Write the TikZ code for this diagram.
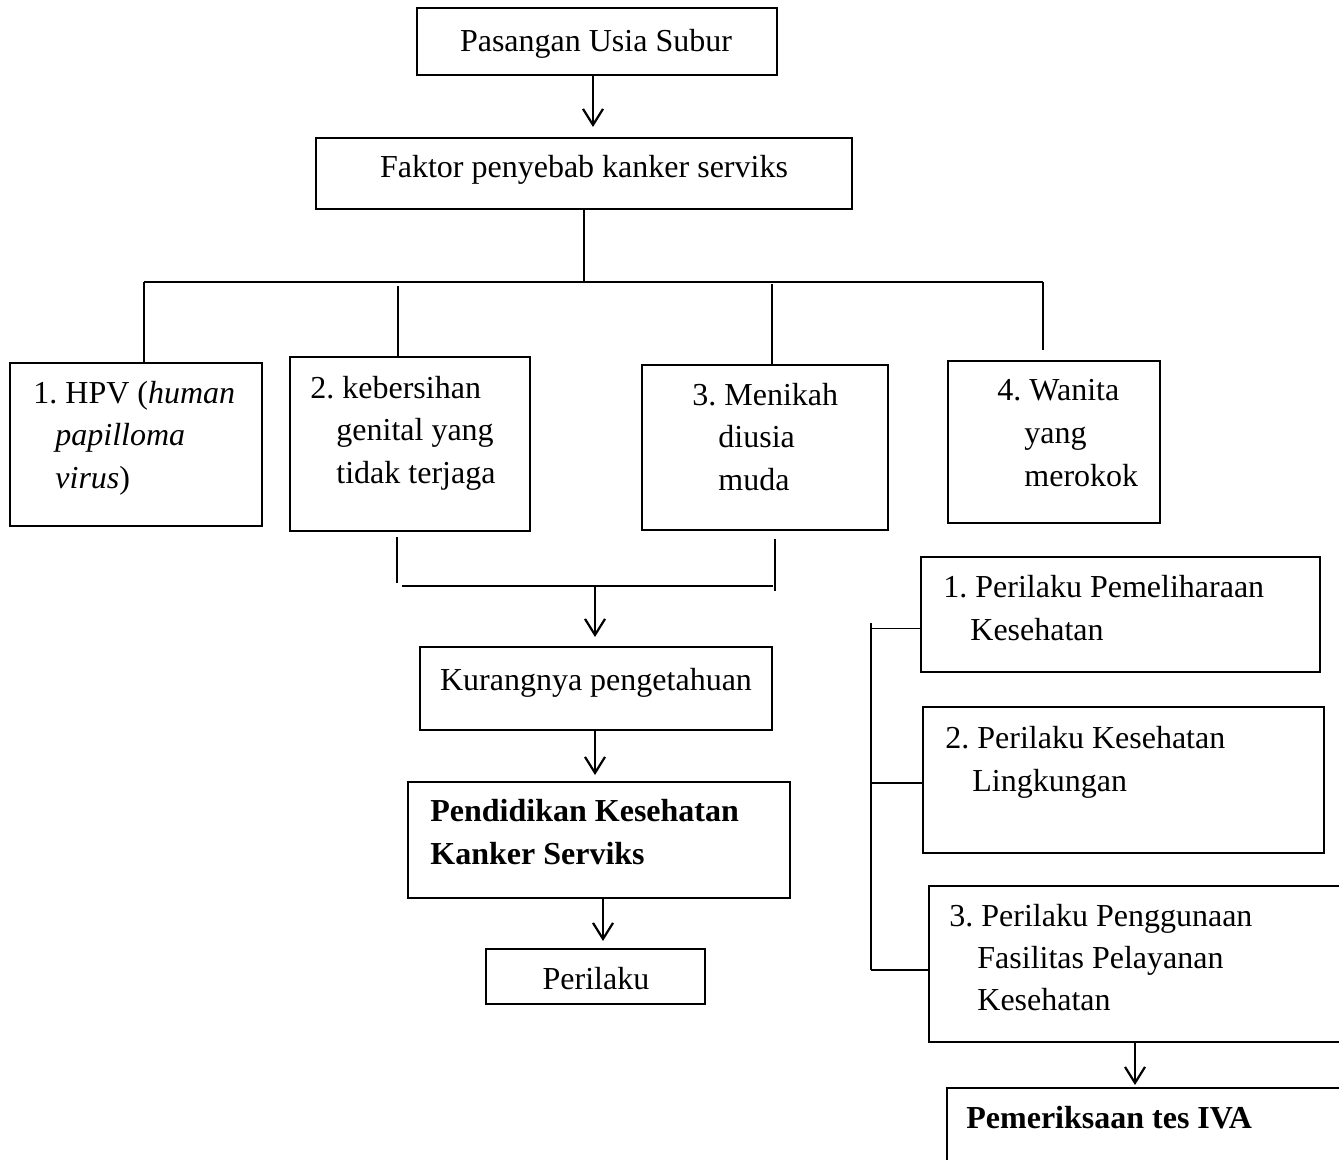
\documentclass[tikz,border=0pt]{standalone}
\usepackage{fontspec}
\setmainfont{Liberation Serif}
\frenchspacing
\usepackage{tikz}
\usetikzlibrary{positioning, arrows.meta, fit, calc}

\begin{document}
\begin{tikzpicture}[x=0.5pt, y=-0.5pt]

	% Styles
	\tikzset{
		box/.style={
			rectangle, draw, line width=1pt, inner sep=0pt
		},
		txt/.style={
			inner sep=0pt, align=left,
			font=\fontsize{16}{21.5}\selectfont
		},
		link/.style={line width=0.8pt},
		arr/.style={line width=1.1pt, -{Straight Barb[length=8pt, width=10pt]}}
	}

	% Page
	\clip (0,0) rectangle (1339,1160);
	\fill[white] (0,0) rectangle (1339,1160);

	% Top boxes
	\node (pus) [box, fit={(417,8) (777,75)}] {};
	\node (pustext) [txt, anchor=base] at (596,52) {Pasangan Usia Subur};
	\node (fak) [box, fit={(316,138) (852,209)}] {};
	\node (faktext) [txt, anchor=base] at (584,178) {Faktor penyebab kanker serviks};

	% Causes (text anchored on the last line)
	\node (hpv) [box, fit={(10,363) (262,526)}] {};
	\node (hpvtext) [txt, anchor=base west] at (33,489) {1. HPV (\textit{human}\\\hspace*{11pt}\textit{papilloma}\\\hspace*{11pt}\textit{virus})};
	\node (gen) [box, fit={(290,357) (530,531)}] {};
	\node (gentext) [txt, anchor=base west] at (310,484) {2. kebersihan\\\hspace*{13pt}genital yang\\\hspace*{13pt}tidak terjaga};
	\node (muda) [box, fit={(642,365) (888,530)}] {};
	\node (mudatext) [txt, anchor=base west] at (692,491) {3. Menikah\\\hspace*{13pt}diusia\\\hspace*{13pt}muda};
	\node (rok) [box, fit={(948,361) (1160,523)}] {};
	\node (roktext) [txt, anchor=base west] at (997,487) {4. Wanita\\\hspace*{13.5pt}yang\\\hspace*{13.5pt}merokok};

	% Middle column
	\node (kur) [box, fit={(420,647) (772,730)}] {};
	\node (kurtext) [txt, anchor=base] at (596,690) {Kurangnya pengetahuan};
	\node (pend) [box, fit={(408,782) (790,898)}] {};
	\node (pendtext) [txt, anchor=base west, font=\fontsize{16}{21.5}\selectfont\bfseries] at (430,864) {Pendidikan Kesehatan\\Kanker Serviks};
	\node (per) [box, fit={(486,949) (705,1004)}] {};
	\node (pertext) [txt, anchor=base] at (596,989) {Perilaku};

	% Behaviour types
	\node (pml) [box, fit={(921,557) (1320,672)}] {};
	\node (pmltext) [txt, anchor=base west] at (943,640) {1. Perilaku Pemeliharaan\\\hspace*{13.5pt}Kesehatan};
	\node (lkg) [box, fit={(923,707) (1324,853)}] {};
	\node (lkgtext) [txt, anchor=base west] at (945,791) {2. Perilaku Kesehatan\\\hspace*{13.5pt}Lingkungan};
	\node (fas) [box, fit={(929,886) (1350,1042)}] {};
	\node (fastext) [txt, anchor=base west, font=\fontsize{16}{20.8}\selectfont] at (949,1010) {3. Perilaku Penggunaan\\\hspace*{14pt}Fasilitas Pelayanan\\\hspace*{14pt}Kesehatan};
	\node (iva) [box, fit={(947,1088) (1350,1170)}] {};
	\node (ivatext) [txt, anchor=base west, font=\fontsize{16}{21.5}\selectfont\bfseries] at (966,1128) {Pemeriksaan tes IVA};

	% Tree from the causes box
	\coordinate (busL) at (144,282);
	\coordinate (busR) at (1043,282);
	\draw[arr, shorten >=5pt] ([xshift=-2pt]pus.south) -- ([xshift=-2pt]pus.south |- fak.north);
	\draw[link] (fak.south) -- (fak.south |- busL);
	\draw[link] (busL) -- (busR);
	\draw[link] (busL) -- (busL |- hpv.north);
	\draw[link] ($(gen.north)+(-12,-70)$) -- ($(gen.north)+(-12,0)$);
	\draw[link] ($(muda.north)+(7,-80)$) -- ($(muda.north)+(7,0)$);
	\draw[link] (busR) -- ($(busR)+(0,68)$);

	% Join into knowledge
	\coordinate (join) at (595,585);
	\draw[link] ($(gen.south)+(-13,5)$) -- ($(gen.south)+(-13,51)$);
	\draw[link] ($(muda.south)+(10,8)$) -- ($(muda.south)+(10,60)$);
	\draw[link] ($(gen.south)+(-8,54)$) -- ($(muda.south)+(8,55)$);
	\draw[arr, shorten >=4.5pt] (join) -- (join |- kur.north);
	\draw[arr, shorten >=3pt] ([xshift=-0.5pt]kur.south) -- ([xshift=-0.5pt]kur.south |- pend.north);
	\draw[arr, shorten >=3.5pt] ([xshift=2pt]pend.south) -- ([xshift=2pt]pend.south |- per.north);

	% Bracket of behaviour types
	\coordinate (brT) at (871,623);
	\coordinate (brB) at (871,970);
	\draw[link] (brT) -- (brB);
	\draw[link] ($(pml.west)+(0,14)$) -- ($(pml.west)+(-50,14)$);
	\draw[link] ($(lkg.west)+(0,3)$) -- ($(lkg.west)+(-52,3)$);
	\draw[link] ($(fas.west)+(0,6)$) -- (brB);
	\draw[arr, shorten >=1pt] ($(fas.south)+(-4.5,0)$) -- ($(fas.south |- iva.north)+(-4.5,0)$);

\end{tikzpicture}
\end{document}
